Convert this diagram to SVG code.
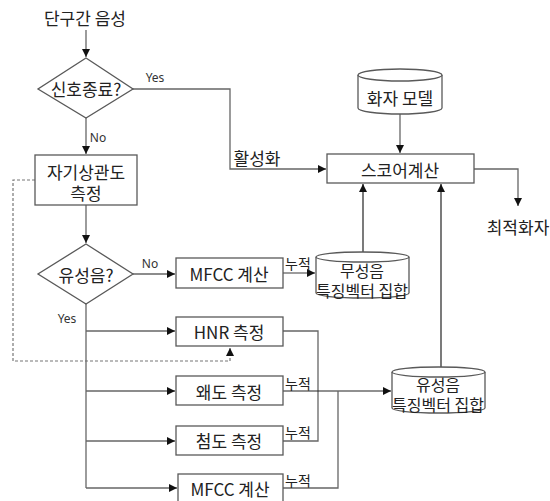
<svg xmlns="http://www.w3.org/2000/svg" width="550" height="501" viewBox="0 0 550 501">
<defs>
<marker id="ah" markerWidth="10" markerHeight="10" refX="8" refY="4" orient="auto" markerUnits="userSpaceOnUse">
<path d="M0,0 L8,4 L0,8 Z" fill="#111"/>
</marker>
<style>
.t{font-family:"Malgun Gothic","Noto Sans CJK KR","Noto Sans",sans-serif;font-size:17px;fill:#222;text-anchor:middle;dominant-baseline:central}
.c{font-size:16px}
.s{font-family:"Noto Sans","Liberation Sans",sans-serif;font-size:12px;fill:#333;text-anchor:middle;dominant-baseline:central}
.k{font-family:"Noto Sans CJK KR",sans-serif;font-size:14px;fill:#222;text-anchor:middle;dominant-baseline:central}
.box{fill:#fff;stroke:#595959;stroke-width:1.3}
.ln{fill:none;stroke:#666;stroke-width:1.3}
.lb{fill:none;stroke:#222;stroke-width:1.2}
.ds{fill:none;stroke:#777;stroke-width:1.2;stroke-dasharray:3,2}
</style>
</defs>
<rect width="550" height="501" fill="#fff"/>
<g id="connectors">
<path class="ln" d="M86,30 V57" marker-end="url(#ah)"/>
<path class="ln" d="M133,89 H230 V169 H326" marker-end="url(#ah)"/>
<path class="ln" d="M86,118 V154" marker-end="url(#ah)"/>
<path class="ln" d="M86,205 V243" marker-end="url(#ah)"/>
<path class="ds" d="M35,180 H13 V361 H230 V348" marker-end="url(#ah)"/>
<path class="ln" d="M133,274 H175" marker-end="url(#ah)"/>
<path class="ln" d="M86,304 V488"/>
<path class="ln" d="M86,331 H175" marker-end="url(#ah)"/>
<path class="ln" d="M86,391 H175" marker-end="url(#ah)"/>
<path class="ln" d="M86,441 H175" marker-end="url(#ah)"/>
<path class="ln" d="M86,488 H177" marker-end="url(#ah)"/>
<path class="ln" d="M283,273 H315" marker-end="url(#ah)"/>
<path class="ln" d="M283,331 H318 V441 H283"/>
<path class="lb" d="M283,391 H391" marker-end="url(#ah)"/>
<path class="ln" d="M338,391 V488 H283"/>
<path class="lb" d="M363,252 V184" marker-end="url(#ah)"/>
<path class="lb" d="M441,367 V184" marker-end="url(#ah)"/>
<path class="ln" d="M400,113 V153" marker-end="url(#ah)"/>
<path class="ln" d="M474,169 H518 V206" marker-end="url(#ah)"/>
<text class="s" x="155" y="77">Yes</text>
<text class="s" x="98" y="137">No</text>
<text class="s" x="150" y="263">No</text>
<text class="s" x="67" y="318">Yes</text>
<text class="t" x="257" y="157">활성화</text>
<text class="k" x="298" y="263">누적</text>
<text class="k" x="298" y="383">누적</text>
<text class="k" x="298" y="432">누적</text>
<text class="k" x="298" y="480">누적</text>
</g>
<g id="start"><text class="t" x="85" y="17">단구간 음성</text></g>
<g id="d1"><path class="box" d="M86,58 L133,89 L86,118 L38,89 Z"/><text class="t" x="86" y="88">신호종료?</text></g>
<g id="autocorr"><rect class="box" x="35" y="155" width="102" height="50"/><text class="t" x="86" y="171">자기상관도<tspan x="86" dy="21">측정</tspan></text></g>
<g id="d2"><path class="box" d="M86,244 L133,274 L86,304 L38,274 Z"/><text class="t" x="86" y="274">유성음?</text></g>
<g id="mfcc1"><rect class="box" x="176" y="258" width="107" height="30"/><text class="t" x="229" y="273">MFCC 계산</text></g>
<g id="hnr"><rect class="box" x="176" y="317" width="107" height="29"/><text class="t" x="229" y="331">HNR 측정</text></g>
<g id="skew"><rect class="box" x="176" y="376" width="107" height="29"/><text class="t" x="229" y="391">왜도 측정</text></g>
<g id="kurt"><rect class="box" x="176" y="426" width="107" height="29"/><text class="t" x="229" y="440">첨도 측정</text></g>
<g id="mfcc2"><rect class="box" x="178" y="474" width="105" height="32"/><text class="t" x="230" y="488">MFCC 계산</text></g>
<g id="unvoiced">
<path class="box" d="M316,257 V293 A46.5,5 0 0 0 409,293 V257"/>
<ellipse class="box" cx="362.5" cy="257" rx="46.5" ry="5"/>
<text class="t c" x="362" y="270">무성음<tspan x="362" dy="20">특징벡터 집합</tspan></text></g>
<g id="voiced">
<path class="box" d="M392,372 V408 A46.5,5 0 0 0 485,408 V372"/>
<ellipse class="box" cx="438.5" cy="372" rx="46.5" ry="5"/>
<text class="t c" x="438" y="384">유성음<tspan x="438" dy="20">특징벡터 집합</tspan></text></g>
<g id="model">
<path class="box" d="M358,75 V108 A42,6 0 0 0 442,108 V75"/>
<ellipse class="box" cx="400" cy="75" rx="42" ry="6"/>
<text class="t" x="400" y="97">화자 모델</text></g>
<g id="score"><rect class="box" x="327" y="154" width="147" height="29"/><text class="t" x="400" y="169">스코어계산</text></g>
<g id="out"><text class="t" x="518" y="226">최적화자</text></g>
</svg>
